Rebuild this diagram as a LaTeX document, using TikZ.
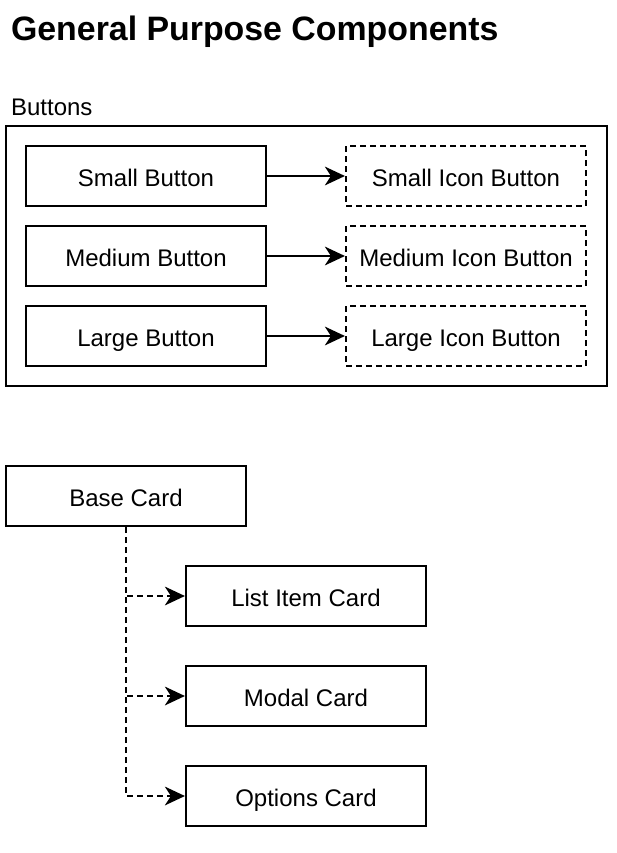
\documentclass[tikz,border=0pt]{standalone}
\usepackage{fontspec}
\setmainfont{Liberation Sans}
\usetikzlibrary{arrows.meta}
\begin{document}
\begin{tikzpicture}[x=0.75pt,y=-0.75pt,
  line width=1.6pt,
  box/.style={draw,rectangle,minimum width=180pt,minimum height=45pt,inner sep=0pt,text height=20pt,text depth=4pt,font=\fontsize{18}{21}\selectfont},
  dbox/.style={box,dash pattern=on 4.5pt off 3pt},
  arr/.style={-{Stealth[length=15pt,width=14pt,inset=4.5pt]}},
  darr/.style={arr,dash pattern=on 4.5pt off 3pt}]
\useasboundingbox (0,0) rectangle (617,853);
\node[anchor=base west,inner sep=0pt,font=\fontsize{25.4}{30}\selectfont\bfseries] (title) at (10,40) {General Purpose Components};
\node[anchor=base west,inner sep=0pt,font=\fontsize{18}{21}\selectfont] (btnlabel) at (10,115) {Buttons};
\draw (6,126) rectangle (607,386);
\node[box] (sb) at (146,176) {Small Button};
\node[dbox] (sib) at (466,176) {Small Icon Button};
\node[box] (mb) at (146,256) {Medium Button};
\node[dbox] (mib) at (466,256) {Medium Icon Button};
\node[box] (lb) at (146,336) {Large Button};
\node[dbox] (lib) at (466,336) {Large Icon Button};
\draw[arr] (sb) -- (sib);
\draw[arr] (mb) -- (mib);
\draw[arr] (lb) -- (lib);
\node[box] (base) at (126,496) {Base Card};
\node[box] (list) at (306,596) {List Item Card};
\node[box] (modal) at (306,696) {Modal Card};
\node[box] (opt) at (306,796) {Options Card};
\draw[darr] (base.south) |- (list.west);
\draw[darr] (base.south) |- (modal.west);
\draw[darr] (base.south) |- (opt.west);
\end{tikzpicture}
\end{document}
